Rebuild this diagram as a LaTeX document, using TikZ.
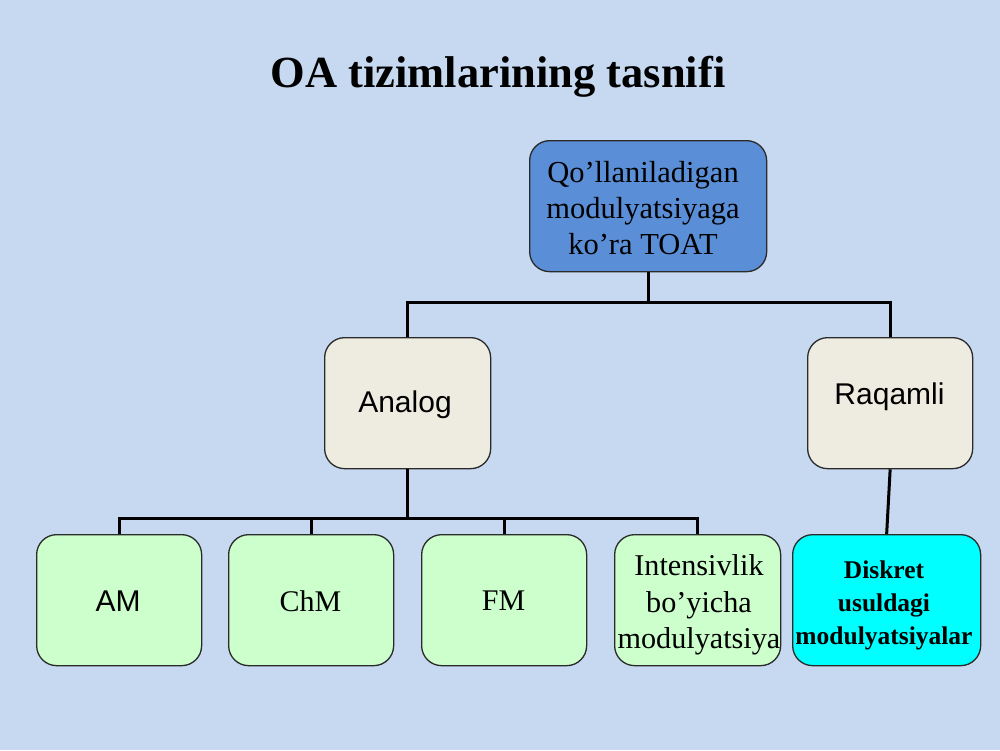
\documentclass[tikz,border=0pt]{standalone}
\usepackage{fontspec}
\setmainfont{Liberation Serif}
\setsansfont{Liberation Sans}
\definecolor{bg}{HTML}{C6D9F0}
\definecolor{topblue}{HTML}{5A8FD8}
\definecolor{beige}{HTML}{EEECE1}
\definecolor{lgreen}{HTML}{CCFFCC}
\definecolor{cyanbox}{HTML}{00FFFF}
\definecolor{edge}{HTML}{2A2A2A}
\tikzset{
  boxbase/.style={draw=edge, line width=1.3pt, rounded corners=20pt, anchor=north west, inner sep=0pt, align=center},
  link/.style={line width=3pt, black},
}
\begin{document}
\begin{tikzpicture}[x=1pt,y=-1pt]
\fill[bg] (0,0) rectangle (1000,750);
\useasboundingbox (0,0) rectangle (1000,750);
\node[font=\bfseries\fontsize{44.5}{50}\selectfont] (title) at (498,77) {OA tizimlarining tasnifi};
% top
\node[boxbase, fill=topblue, minimum width=237pt, minimum height=131pt] (top) at (529,140) {};
\node[font=\fontsize{30.5}{36}\selectfont, align=center] (topt) at (643,208) {Qo’llaniladigan\\modulyatsiyaga\\ko’ra TOAT};
% second row
\node[boxbase, fill=beige, minimum width=166pt, minimum height=131pt] (analog) at (324,337) {};
\node[font=\sffamily\fontsize{30}{34}\selectfont] (analogt) at (405,405) {Analog};
\node[boxbase, fill=beige, minimum width=165pt, minimum height=131pt] (raq) at (807,337) {};
\node[font=\sffamily\fontsize{30}{34}\selectfont] (raqt) at (889.5,397) {Raqamli};
% third row
\node[boxbase, fill=lgreen, minimum width=165pt, minimum height=131pt] (am) at (36,534) {};
\node[font=\sffamily\fontsize{30}{34}\selectfont] (amt) at (118,601) {AM};
\node[boxbase, fill=lgreen, minimum width=165pt, minimum height=131pt] (chm) at (228,534) {};
\node[font=\fontsize{30}{34}\selectfont] (chmt) at (310.5,601) {ChM};
\node[boxbase, fill=lgreen, minimum width=165pt, minimum height=131pt] (fm) at (421,534) {};
\node[font=\fontsize{30}{34}\selectfont] (fmt) at (503.5,601) {FM};
\node[boxbase, fill=lgreen, minimum width=166pt, minimum height=131pt] (int) at (614,534) {};
\node[font=\fontsize{30.2}{36.5}\selectfont, align=center] (intt) at (699,605) {Intensivlik\\bo’yicha\\modulyatsiya};
\node[boxbase, fill=cyanbox, minimum width=188pt, minimum height=131pt] (disk) at (792,534) {};
\node[font=\bfseries\fontsize{25.5}{33}\selectfont, align=center] (diskt) at (884,605) {Diskret\\usuldagi\\modulyatsiyalar};
% connectors
\coordinate (j1) at (647,302);
\coordinate (j2) at (406,518);
\draw[link] (top.south) -- (top.south |- j1);
\draw[link] (analog.north) |- (j1) -| (raq.north);
\draw[link] (analog.south) -- (analog.south |- j2);
\draw[link] (am.north) |- (j2) -| (int.north);
\draw[link] (chm.north) -- (chm.north |- j2);
\draw[link] (fm.north) -- (fm.north |- j2);
\draw[link] (raq.south) -- (disk.north);
\end{tikzpicture}
\end{document}
